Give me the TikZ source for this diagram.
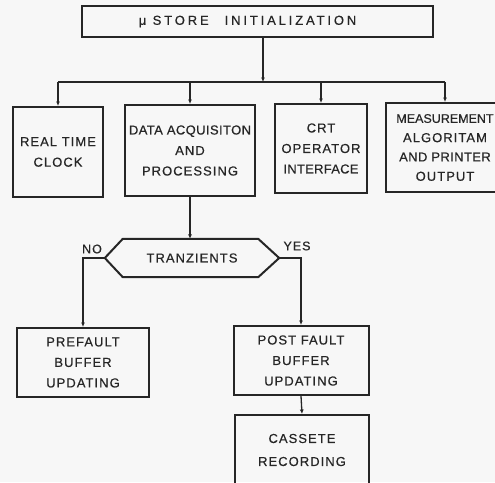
\documentclass[tikz,border=0pt]{standalone}
\usepackage{fontspec}
\setmainfont{Liberation Sans}[LetterSpace=8, FakeBold=0.5]
\usetikzlibrary{arrows.meta}
\tikzset{
  box/.style={draw=black!85, line width=2pt, align=center, inner sep=0pt,
    font=\fontsize{13}{20.5}\selectfont, text=black!85},
  hexnode/.style={align=center, inner sep=0pt, font=\fontsize{13}{14}\selectfont, text=black!85},
  lbl/.style={inner sep=0pt, font=\fontsize{12.5}{14}\selectfont, text=black!85},
  line/.style={draw=black!85, line width=1.3pt},
  arr/.style={line, -{Latex[length=4.5pt,width=4pt]}},
  hexline/.style={draw=black!85, line width=2pt, line join=round}
}
\begin{document}
\begin{tikzpicture}[x=1pt,y=-1pt]
\useasboundingbox (0,0) rectangle (495,482);
\fill[black!3] (0,0) rectangle (495,482);
\clip (0,0) rectangle (495,482);

% top box
\node[box, minimum width=351, minimum height=31] (top) at (257.5,21.5)
  {\addfontfeature{LetterSpace=22}μ STORE\hspace{16pt}INITIALIZATION\hspace{20pt}};

% second row
\node[box, minimum width=90, minimum height=90] (rtc) at (58,152) {REAL TIME\\CLOCK};
\node[box, minimum width=130, minimum height=91] (data) at (190,150.5)
  {{\addfontfeature{LetterSpace=3}DATA ACQUISITON}\\AND\\PROCESSING};
\node[box, minimum width=92, minimum height=89] (crt) at (321,148.5)
  {CRT\\OPERATOR\\{\addfontfeature{LetterSpace=2}INTERFACE}};
\node[box, minimum width=118, minimum height=89, font=\fontsize{13}{19.3}\selectfont] (meas) at (445,147.5)
  {{\fontsize{12.5}{19.3}\selectfont\addfontfeature{LetterSpace=0}MEASUREMENT}\\ALGORITAM\\{\addfontfeature{LetterSpace=3}AND PRINTER}\\OUTPUT};

% decision
\node[hexnode, minimum width=174, minimum height=38] (tr) at (192,258) {TRANZIENTS};
\draw[hexline] ([xshift=18pt]tr.north west) -- ([xshift=-21pt]tr.north east) -- (tr.east)
  -- ([xshift=-21pt]tr.south east) -- ([xshift=18pt]tr.south west) -- (tr.west) -- cycle;
\node[lbl] (no) at (92,249) {NO};
\node[lbl] (yes) at (297,246) {YES};

% lower boxes
\node[box, minimum width=132, minimum height=69] (pre) at (83,362.5) {PREFAULT\\BUFFER\\UPDATING};
\node[box, minimum width=135, minimum height=69] (post) at (301,360.5) {POST FAULT\\BUFFER\\UPDATING};
\node[box, minimum width=134, minimum height=70, font=\fontsize{13}{23}\selectfont] (cas) at (302,450) {CASSETE\\RECORDING};

% bus
\coordinate (busL) at (58,82);
\coordinate (busR) at (445,82);
\coordinate (busM) at (263,82);
\draw[arr] (top.south -| busM) -- (busM);
\draw[line] (busL) -- (busR);
\draw[arr] (busL) -- (rtc.north);
\draw[arr] (busL -| data.north) -- (data.north);
\draw[arr] (busL -| crt.north) -- (crt.north);
\draw[arr] (busR) -- (meas.north);

% flow
\draw[arr] (data.south) -- (data.south |- tr.north);
\draw[arr] (tr.west) -| (pre.north);
\draw[arr] (tr.east) -| (post.north);
\draw[arr] (post.south) -- (cas.north);
\end{tikzpicture}
\end{document}
